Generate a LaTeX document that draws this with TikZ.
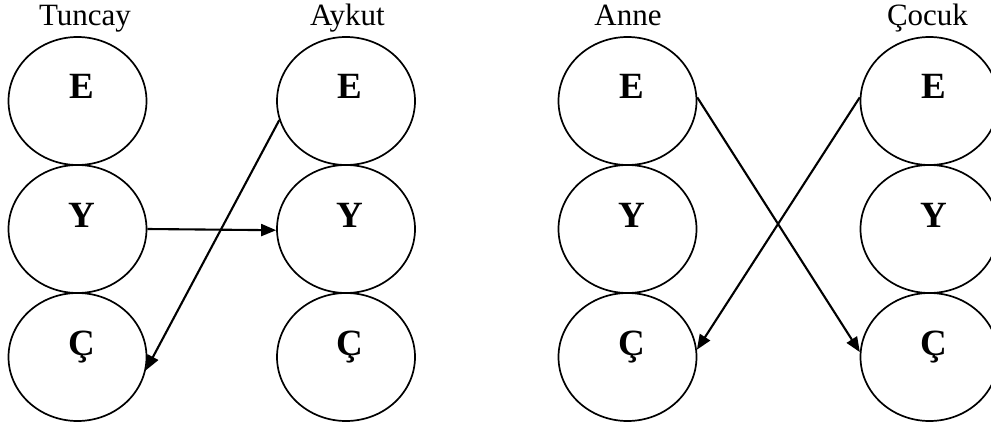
\documentclass[tikz,border=0pt]{standalone}
\usepackage{fontspec}
\setmainfont{Liberation Serif}
\usetikzlibrary{shapes.geometric,arrows.meta}
\begin{document}
\begin{tikzpicture}[x=1pt,y=-1pt,
  circ/.style={draw,ellipse,line width=1.7pt,minimum width=138pt,minimum height=128pt,inner sep=0pt},
  letter/.style={anchor=base,inner sep=0pt,font=\fontsize{37}{37}\selectfont\bfseries},
  head/.style={anchor=base,inner sep=0pt,font=\fontsize{31}{31}\selectfont},
  conn/.style={line width=2.1pt,-{Triangle[length=15pt,width=12pt]}}]
\useasboundingbox (0,0) rectangle (991,428);
% column 1: Tuncay
\node[circ] (tE) at (77.5,101) {};
\node[circ] (tY) at (77.5,229) {};
\node[circ] (tC) at (77.5,357) {};
\node[letter] (tEl) at (81.5,99) {E};
\node[letter] (tYl) at (81.5,227) {Y};
\node[letter] (tCl) at (81.5,355) {Ç};
\node[head] (tH) at (85,26) {Tuncay};
% column 2: Aykut
\node[circ] (aE) at (346,101) {};
\node[circ] (aY) at (346,229) {};
\node[circ] (aC) at (346,357) {};
\node[letter] (aEl) at (350,99) {E};
\node[letter] (aYl) at (350,227) {Y};
\node[letter] (aCl) at (350,355) {Ç};
\node[head] (aH) at (347.5,26) {Aykut};
% column 3: Anne
\node[circ] (nE) at (627.5,101) {};
\node[circ] (nY) at (627.5,229) {};
\node[circ] (nC) at (627.5,357) {};
\node[letter] (nEl) at (631.5,99) {E};
\node[letter] (nYl) at (631.5,227) {Y};
\node[letter] (nCl) at (631.5,355) {Ç};
\node[head] (nH) at (628,26) {Anne};
% column 4: Cocuk
\node[circ] (cE) at (929.5,101) {};
\node[circ] (cY) at (929.5,229) {};
\node[circ] (cC) at (929.5,357) {};
\node[letter] (cEl) at (933.5,99) {E};
\node[letter] (cYl) at (933.5,227) {Y};
\node[letter] (cCl) at (933.5,355) {Ç};
\node[head] (cH) at (927.5,26) {Çocuk};
% connectors
\draw[conn] (aE.196) -- (tC.-11);
\draw[conn] (tY.east) -- (aY.181);
\draw[conn] (nE.3) -- (cC.176);
\draw[conn] (cE.177) -- (nC.6);
\end{tikzpicture}
\end{document}
